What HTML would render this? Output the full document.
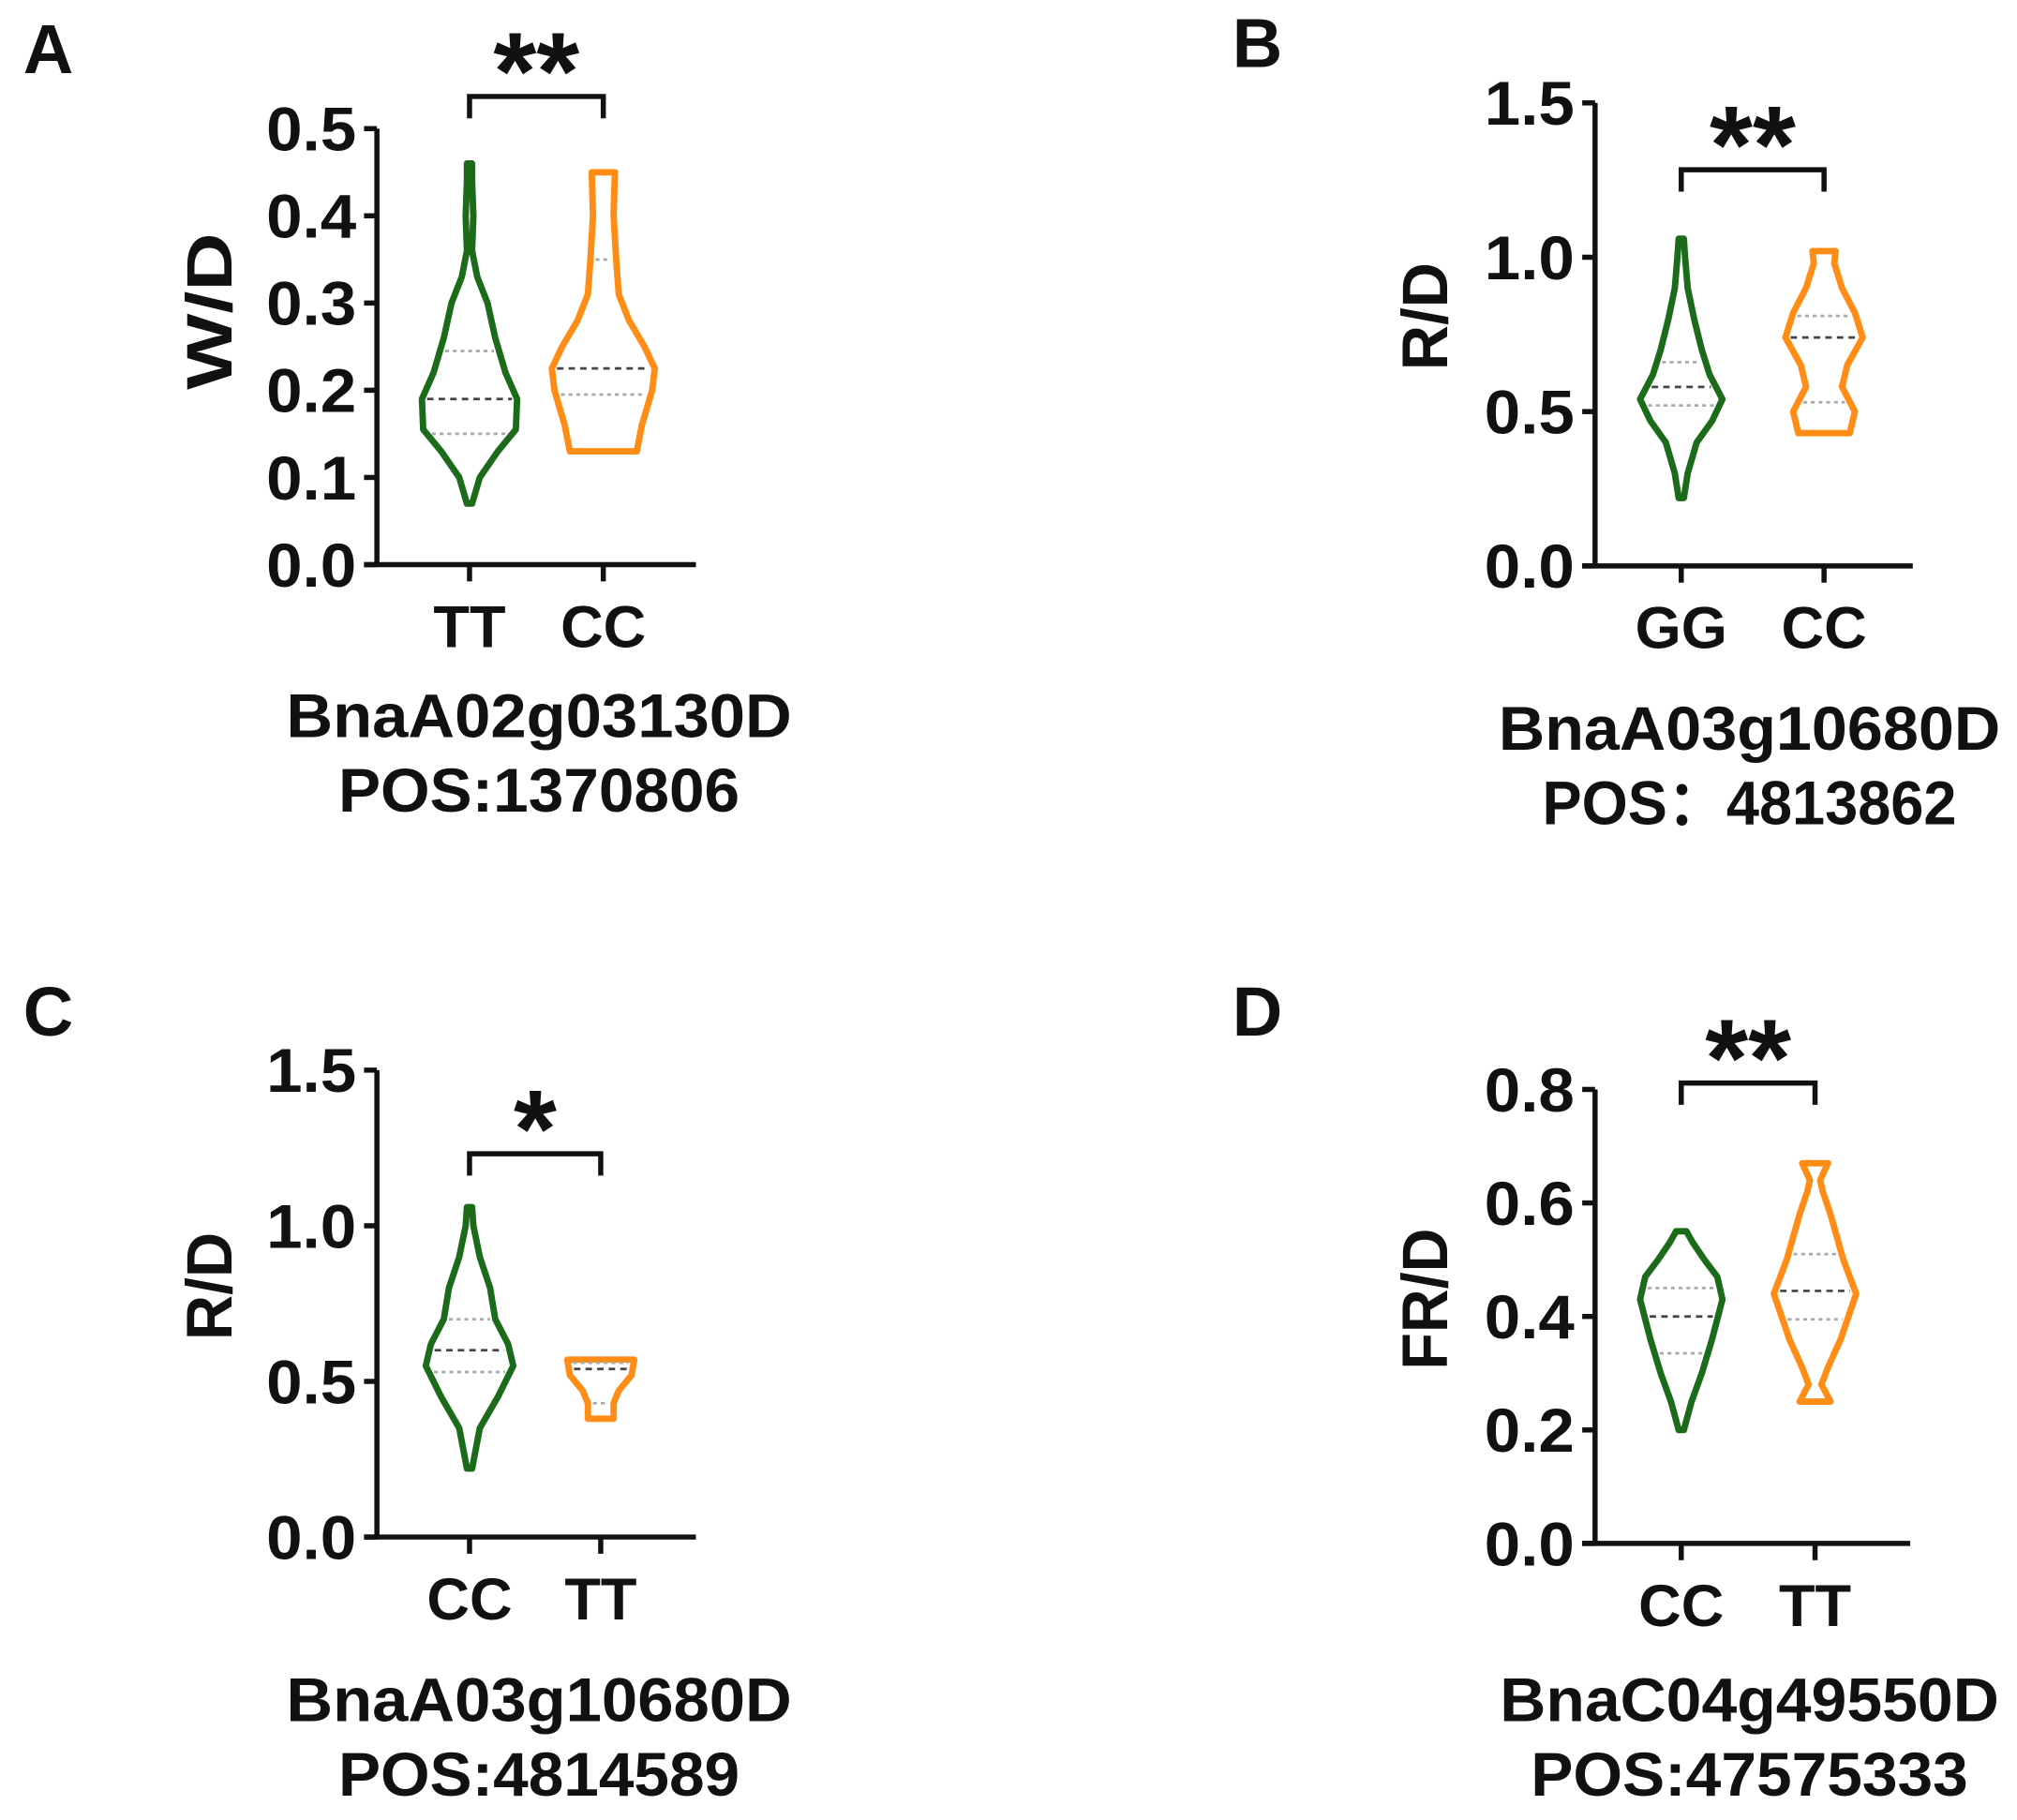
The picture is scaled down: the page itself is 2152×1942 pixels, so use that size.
<!DOCTYPE html>
<html><head><meta charset="utf-8">
<style>
html,body{margin:0;padding:0;background:#fff;}
svg{display:block;}
text{font-family:"Liberation Sans",sans-serif;font-weight:bold;fill:#111;}
</style></head>
<body>
<svg id="fig" width="2152" height="1942" viewBox="0 0 1568 1415" xmlns="http://www.w3.org/2000/svg"></svg>
<script>
// ---- Data (value, relative half-width) per violin ----
const catsA = ["TT","CC"];
const ticksA = [0.0,0.1,0.2,0.3,0.4,0.5];
const violinA1 = [[0.07,2],[0.10,8],[0.13,22],[0.155,36],[0.19,37],[0.22,28],[0.26,20],[0.30,14],[0.33,6],[0.36,2],[0.40,3],[0.44,2],[0.46,2]];
const violinA2 = [[0.13,26],[0.16,30],[0.20,38],[0.225,40],[0.25,32],[0.28,20],[0.31,12],[0.35,10],[0.40,8],[0.45,9]];
const statsA1 = [0.15,0.19,0.245];
const statsA2 = [0.195,0.225,0.35];

const catsB = ["GG","CC"];
const ticksB = [0.0,0.5,1.0,1.5];
const violinB1 = [[0.22,2],[0.30,5],[0.40,12],[0.47,24],[0.54,32],[0.62,22],[0.70,16],[0.80,10],[0.90,5],[1.0,3],[1.06,2]];
const violinB2 = [[0.43,20],[0.50,24],[0.58,14],[0.65,18],[0.74,30],[0.82,24],[0.90,14],[0.98,8],[1.02,9]];
const statsB1 = [0.52,0.58,0.66];
const statsB2 = [0.53,0.74,0.81];

const catsC = ["CC","TT"];
const ticksC = [0.0,0.5,1.0,1.5];
const violinC1 = [[0.22,2],[0.35,8],[0.45,22],[0.55,34],[0.62,30],[0.70,20],[0.80,16],[0.90,8],[1.0,3],[1.06,2]];
const violinC2 = [[0.38,10],[0.43,10],[0.47,14],[0.52,24],[0.57,26]];
const statsC1 = [0.53,0.60,0.70];
const statsC2 = [0.43,0.54,0.56];

const catsD = ["CC","TT"];
const ticksD = [0.0,0.2,0.4,0.6,0.8];
const violinD1 = [[0.20,2],[0.25,8],[0.30,16],[0.36,24],[0.43,32],[0.47,28],[0.50,18],[0.53,9],[0.55,4]];
const violinD2 = [[0.25,12],[0.28,5],[0.31,10],[0.36,20],[0.44,32],[0.50,22],[0.58,12],[0.62,6],[0.64,4],[0.67,10]];
const statsD1 = [0.335,0.40,0.45];
const statsD2 = [0.395,0.445,0.51];

const panels = [
 {id:"a",letter:"A",lx:18,ly:57,ax:293,yTop:100,yBot:439,yMax:0.5,xEnd:541,cx:[365,469],cats:catsA,ticks:ticksA,fmt:1,title:"W/D",tx:180,ty:242,tlen:122,v:[violinA1,violinA2],s:[statsA1,statsA2],brY:75,sig:"**",g1:"BnaA02g03130D",g2:"POS:1370806",gy:573,gx:419,w1:393,w2:312},
 {id:"b",letter:"B",lx:958,ly:52,ax:1240,yTop:80,yBot:440,yMax:1.5,xEnd:1487,cx:[1307,1418],cats:catsB,ticks:ticksB,fmt:1,title:"R/D",tx:1125,ty:246,tlen:84,v:[violinB1,violinB2],s:[statsB1,statsB2],brY:132,sig:"**",g1:"BnaA03g10680D",g2:"POS：4813862",gy:583,gx:1360,w1:390,w2:322},
 {id:"c",letter:"C",lx:18,ly:805,ax:293,yTop:832,yBot:1195,yMax:1.5,xEnd:541,cx:[365,467],cats:catsC,ticks:ticksC,fmt:1,title:"R/D",tx:180,ty:1000,tlen:84,v:[violinC1,violinC2],s:[statsC1,statsC2],brY:897,sig:"*",g1:"BnaA03g10680D",g2:"POS:4814589",gy:1338,gx:419,w1:393,w2:312},
 {id:"d",letter:"D",lx:958,ly:805,ax:1240,yTop:847,yBot:1200,yMax:0.8,xEnd:1485,cx:[1307,1411],cats:catsD,ticks:ticksD,fmt:1,title:"FR/D",tx:1125,ty:1010,tlen:110,v:[violinD1,violinD2],s:[statsD1,statsD2],brY:842,sig:"**",g1:"BnaC04g49550D",g2:"POS:47575333",gy:1338,gx:1360,w1:388,w2:340}
];
const colors = ["#1b6b1b","#ff8c14"];
const NS="http://www.w3.org/2000/svg";
const svg=document.getElementById("fig");
function mk(tag,attrs,parent){const e=document.createElementNS(NS,tag);for(const k in attrs)e.setAttribute(k,attrs[k]);(parent||svg).appendChild(e);return e;}
function widthAt(v,y){
  if(y<=v[0][0])return v[0][1];
  for(let i=1;i<v.length;i++){if(y<=v[i][0]){const t=(y-v[i-1][0])/(v[i][0]-v[i-1][0]);return v[i-1][1]+t*(v[i][1]-v[i-1][1]);}}
  return v[v.length-1][1];
}
panels.forEach(p=>{
  const g=mk("g",{});
  
  
  const Y=v=>p.yBot-(v/p.yMax)*(p.yBot-p.yTop);
  const L=mk("text",{x:p.lx,y:p.ly,"font-size":54},g);L.textContent=p.letter;
  
  
  const ya=mk("line",{x1:p.ax,y1:p.yTop,x2:p.ax,y2:p.yBot,stroke:"#111","stroke-width":4},g);
  
  
  const xa=mk("line",{x1:p.ax-10,y1:p.yBot,x2:p.xEnd,y2:p.yBot,stroke:"#111","stroke-width":4},g);
  
  
  p.ticks.forEach(t=>{
    mk("line",{x1:p.ax-10,y1:Y(t),x2:p.ax,y2:Y(t),stroke:"#111","stroke-width":4},g);
    const tl=mk("text",{x:p.ax-16,y:Y(t)+17,"font-size":48,"text-anchor":"end",textLength:70,lengthAdjust:"spacingAndGlyphs"},g);
    tl.textContent=t.toFixed(p.fmt);
    
    
  });
  const tt=mk("text",{x:p.tx,y:p.ty,"font-size":50,"text-anchor":"middle",textLength:p.tlen,lengthAdjust:"spacingAndGlyphs",transform:`rotate(-90 ${p.tx} ${p.ty})`},g);
  tt.textContent=p.title;
  
  
  p.cats.forEach((c,i)=>{
    mk("line",{x1:p.cx[i],y1:p.yBot,x2:p.cx[i],y2:p.yBot+13,stroke:"#111","stroke-width":4},g);
    const cl=mk("text",{x:p.cx[i],y:p.yBot+64,"font-size":46,"text-anchor":"middle"},g);
    cl.textContent=c;
    
    
    const v=p.v[i];
    let right=v.map(([y,w])=>`${p.cx[i]+w},${Y(y)}`);
    let left=v.slice().reverse().map(([y,w])=>`${p.cx[i]-w},${Y(y)}`);
    const path=mk("polygon",{points:right.concat(left).join(" "),fill:"none",stroke:colors[i],"stroke-width":5,"stroke-linejoin":"round"},g);
    
    
    p.s[i].forEach((s,k)=>{
      const w=widthAt(v,s)-4;
      const ln=mk("line",{x1:p.cx[i]-w,y1:Y(s),x2:p.cx[i]+w,y2:Y(s),stroke:k==1?"#444":"#aaa","stroke-width":2,"stroke-dasharray":k==1?"5,4":"3,3"},g);
      
      
    });
  });
  const br=mk("polyline",{points:`${p.cx[0]},${p.brY+17} ${p.cx[0]},${p.brY} ${p.cx[1]},${p.brY} ${p.cx[1]},${p.brY+17}`,fill:"none",stroke:"#111","stroke-width":4},g);
  
  
  const st=mk("text",{x:(p.cx[0]+p.cx[1])/2,y:p.brY+10,"font-size":86,"text-anchor":"middle"},g);
  st.textContent=p.sig;
  
  
  const t1=mk("text",{x:p.gx,y:p.gy,"font-size":48,"text-anchor":"middle",textLength:p.w1,lengthAdjust:"spacingAndGlyphs"},g);t1.textContent=p.g1;
  
  
  const t2=mk("text",{x:p.gx,y:p.gy+58,"font-size":48,"text-anchor":"middle",textLength:p.w2,lengthAdjust:"spacingAndGlyphs"},g);t2.textContent=p.g2;
  
  
});
</script>
</body></html>
